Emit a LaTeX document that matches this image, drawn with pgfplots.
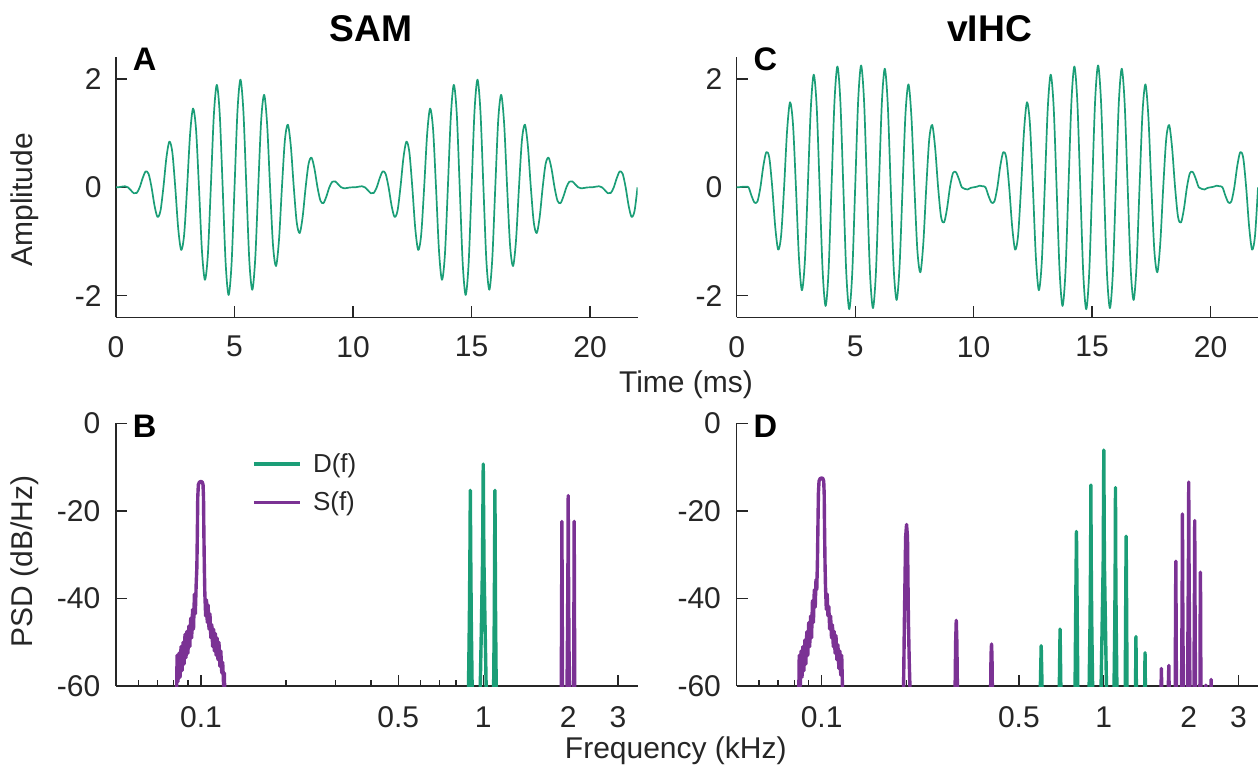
\documentclass[border=0pt]{standalone}
\usepackage{fontspec}
\setmainfont{Liberation Sans}
\usepackage{pgfplots}
\pgfplotsset{compat=1.18}
\definecolor{cg}{RGB}{27,158,119}
\definecolor{cp}{RGB}{123,50,148}
\definecolor{ax}{RGB}{38,38,38}
\pgfplotsset{
 myaxstyle/.style={
   scale only axis, anchor=south west,
   axis x line*=bottom, axis y line*=left,
   axis line style={ax, line width=0.65pt},
   every tick/.style={ax, line width=0.65pt},
   major tick length=5.5pt, minor tick length=3pt,
   tick align=inside,
   ticklabel style={font=\fontsize{15}{18}\selectfont, text=ax, inner sep=0pt},
 },
 timeaxstyle/.style={myaxstyle, height=130pt, xmin=0, xmax=22, ymin=-2.4, ymax=2.4,
   xtick={0,5,10,15,20}, xticklabels={0,5,10,15,20},
   ytick={-2,0,2}, yticklabels={-2,0,2},
   xticklabel style={anchor=north, yshift=-9.3pt},
   yticklabel style={anchor=east, xshift=-7pt}},
 freqaxstyle/.style={myaxstyle, height=131.35pt, xmin=0.05, xmax=3.52, ymin=-60, ymax=0,
   xtick={0.1,0.5,1,2,3}, xticklabels={0.1,0.5,1,2,3},
   minor xtick={0.06,0.07,0.08,0.09,0.2,0.3,0.4,0.6,0.7,0.8,0.9},
   ytick={-60,-40,-20,0}, yticklabels={-60,-40,-20,0},
   xticklabel style={anchor=north, yshift=-10pt},
   yticklabel style={anchor=east, xshift=-7.7pt}},
}
\begin{document}
\begin{tikzpicture}
\useasboundingbox (0pt,0pt) rectangle (629pt,-386pt);
% ---------------- A ----------------
\begin{axis}[timeaxstyle, at={(58pt,-158.65pt)}, width=260.75pt]
\addplot[cg, line width=0.85pt, smooth, line join=round] coordinates {
(0,0)(0.125,0.0022)(0.25,0.0123)(0.375,0.0195)(0.5,0)(0.625,-0.0538)(0.75,-0.109)(0.875,-0.1042)
(1,0)(1.125,0.1694)(1.25,0.2929)(1.375,0.2479)(1.5,0)(1.625,-0.3376)(1.75,-0.546)(1.875,-0.4365)
(2,0)(2.125,0.542)(2.25,0.8436)(2.375,0.6516)(2.5,0)(2.625,-0.7626)(2.75,-1.1564)(2.875,-0.8722)
(3,0)(3.125,0.9777)(3.25,1.454)(3.375,1.0766)(3.5,0)(3.625,-1.1663)(3.75,-1.7071)(3.875,-1.2448)
(4,0)(4.125,1.31)(4.25,1.891)(4.375,1.3604)(4.5,0)(4.625,-1.3947)(4.75,-1.9877)(4.875,-1.412)
(5,0)(5.125,1.412)(5.25,1.9877)(5.375,1.3947)(5.5,0)(5.625,-1.3604)(5.75,-1.891)(5.875,-1.31)
(6,0)(6.125,1.2448)(6.25,1.7071)(6.375,1.1663)(6.5,0)(6.625,-1.0766)(6.75,-1.454)(6.875,-0.9777)
(7,0)(7.125,0.8722)(7.25,1.1564)(7.375,0.7626)(7.5,0)(7.625,-0.6516)(7.75,-0.8436)(7.875,-0.542)
(8,0)(8.125,0.4365)(8.25,0.546)(8.375,0.3376)(8.5,0)(8.625,-0.2479)(8.75,-0.2929)(8.875,-0.1694)
(9,0)(9.125,0.1042)(9.25,0.109)(9.375,0.0538)(9.5,0)(9.625,-0.0195)(9.75,-0.0123)(9.875,-0.0022)
(10,0)(10.125,0.0022)(10.25,0.0123)(10.375,0.0195)(10.5,0)(10.625,-0.0538)(10.75,-0.109)(10.875,-0.1042)
(11,0)(11.125,0.1694)(11.25,0.2929)(11.375,0.2479)(11.5,0)(11.625,-0.3376)(11.75,-0.546)(11.875,-0.4365)
(12,0)(12.125,0.542)(12.25,0.8436)(12.375,0.6516)(12.5,0)(12.625,-0.7626)(12.75,-1.1564)(12.875,-0.8722)
(13,0)(13.125,0.9777)(13.25,1.454)(13.375,1.0766)(13.5,0)(13.625,-1.1663)(13.75,-1.7071)(13.875,-1.2448)
(14,0)(14.125,1.31)(14.25,1.891)(14.375,1.3604)(14.5,0)(14.625,-1.3947)(14.75,-1.9877)(14.875,-1.412)
(15,0)(15.125,1.412)(15.25,1.9877)(15.375,1.3947)(15.5,0)(15.625,-1.3604)(15.75,-1.891)(15.875,-1.31)
(16,0)(16.125,1.2448)(16.25,1.7071)(16.375,1.1663)(16.5,0)(16.625,-1.0766)(16.75,-1.454)(16.875,-0.9777)
(17,0)(17.125,0.8722)(17.25,1.1564)(17.375,0.7626)(17.5,0)(17.625,-0.6516)(17.75,-0.8436)(17.875,-0.542)
(18,0)(18.125,0.4365)(18.25,0.546)(18.375,0.3376)(18.5,0)(18.625,-0.2479)(18.75,-0.2929)(18.875,-0.1694)
(19,0)(19.125,0.1042)(19.25,0.109)(19.375,0.0538)(19.5,0)(19.625,-0.0195)(19.75,-0.0123)(19.875,-0.0022)
(20,0)(20.125,0.0022)(20.25,0.0123)(20.375,0.0195)(20.5,0)(20.625,-0.0538)(20.75,-0.109)(20.875,-0.1042)
(21,0)(21.125,0.1694)(21.25,0.2929)(21.375,0.2479)(21.5,0)(21.625,-0.3376)(21.75,-0.546)(21.875,-0.4365)
(22,0)};
\end{axis}
% ---------------- C ----------------
\begin{axis}[timeaxstyle, at={(368.35pt,-158.65pt)}, width=260.65pt]
\addplot[cg, line width=0.85pt, smooth, line join=round] coordinates {
(0,0)(0.125,0.003)(0.25,0.01)(0.375,0.01)(0.5,0)(0.625,-0.156)(0.75,-0.28)(0.875,-0.262)
(1,0)(1.125,0.396)(1.25,0.65)(1.375,0.548)(1.5,0)(1.625,-0.725)(1.75,-1.15)(1.875,-0.887)
(2,0)(2.125,1.036)(2.25,1.57)(2.375,1.167)(2.5,0)(2.625,-1.287)(2.75,-1.9)(2.875,-1.375)
(3,0)(3.125,1.439)(3.25,2.08)(3.375,1.492)(3.5,0)(3.625,-1.527)(3.75,-2.19)(3.875,-1.556)
(4,0)(4.125,1.57)(4.25,2.23)(4.375,1.58)(4.5,0)(4.625,-1.587)(4.75,-2.25)(4.875,-1.591)
(5,0)(5.125,1.591)(5.25,2.25)(5.375,1.587)(5.5,0)(5.625,-1.58)(5.75,-2.23)(5.875,-1.57)
(6,0)(6.125,1.556)(6.25,2.19)(6.375,1.527)(6.5,0)(6.625,-1.492)(6.75,-2.08)(6.875,-1.439)
(7,0)(7.125,1.375)(7.25,1.9)(7.375,1.287)(7.5,0)(7.625,-1.167)(7.75,-1.57)(7.875,-1.036)
(8,0)(8.125,0.887)(8.25,1.15)(8.375,0.725)(8.5,0)(8.625,-0.548)(8.75,-0.65)(8.875,-0.396)
(9,0)(9.125,0.262)(9.25,0.28)(9.375,0.156)(9.5,0)(9.625,-0.03)(9.75,-0.04)(9.875,-0.01)
(10,0)(10.125,0.01)(10.25,0.03)(10.375,0.02)(10.5,0)(10.625,-0.156)(10.75,-0.28)(10.875,-0.262)
(11,0)(11.125,0.396)(11.25,0.65)(11.375,0.548)(11.5,0)(11.625,-0.725)(11.75,-1.15)(11.875,-0.887)
(12,0)(12.125,1.036)(12.25,1.57)(12.375,1.167)(12.5,0)(12.625,-1.287)(12.75,-1.9)(12.875,-1.375)
(13,0)(13.125,1.439)(13.25,2.08)(13.375,1.492)(13.5,0)(13.625,-1.527)(13.75,-2.19)(13.875,-1.556)
(14,0)(14.125,1.57)(14.25,2.23)(14.375,1.58)(14.5,0)(14.625,-1.587)(14.75,-2.25)(14.875,-1.591)
(15,0)(15.125,1.591)(15.25,2.25)(15.375,1.587)(15.5,0)(15.625,-1.58)(15.75,-2.23)(15.875,-1.57)
(16,0)(16.125,1.556)(16.25,2.19)(16.375,1.527)(16.5,0)(16.625,-1.492)(16.75,-2.08)(16.875,-1.439)
(17,0)(17.125,1.375)(17.25,1.9)(17.375,1.287)(17.5,0)(17.625,-1.167)(17.75,-1.57)(17.875,-1.036)
(18,0)(18.125,0.887)(18.25,1.15)(18.375,0.725)(18.5,0)(18.625,-0.548)(18.75,-0.65)(18.875,-0.396)
(19,0)(19.125,0.262)(19.25,0.28)(19.375,0.156)(19.5,0)(19.625,-0.03)(19.75,-0.04)(19.875,-0.01)
(20,0)(20.125,0.01)(20.25,0.03)(20.375,0.02)(20.5,0)(20.625,-0.156)(20.75,-0.28)(20.875,-0.262)
(21,0)(21.125,0.396)(21.25,0.65)(21.375,0.548)(21.5,0)(21.625,-0.725)(21.75,-1.15)(21.875,-0.887)
(22,0)};
\end{axis}
% ---------------- B ----------------
\begin{semilogxaxis}[freqaxstyle, at={(58pt,-343pt)}, width=260.75pt,
   legend style={draw=none, fill=none, at={(0.2604,0.903)}, anchor=north west,
     inner sep=0pt, row sep=4.3pt, column sep=3.85pt,
     font=\fontsize{13}{15}\selectfont, text=ax, nodes={inner sep=2pt}},
   legend cell align=left,
   legend image code/.code={\draw[#1] (0pt,0pt) -- (22.85pt,0pt);}]
\addplot[cg, line width=1.7pt, line join=round] coordinates {
(0.86,-100)(0.885,-64)(0.893,-45)(0.897,-30)(0.9,-15.3)(0.903,-30)(0.907,-45)(0.915,-64)(0.94,-100)
(0.96,-100)(0.974,-63)(0.984,-48)(0.994,-32)(1.0,-9.3)(1.006,-32)(1.016,-48)(1.026,-63)(1.05,-100)
(1.07,-100)(1.087,-64)(1.094,-45)(1.097,-30)(1.1,-15.3)(1.103,-30)(1.106,-45)(1.113,-64)(1.14,-100)};
\addlegendentry{D(f)}
\addplot[cp, line width=1.7pt, line join=round] coordinates {
(0.08,-100)(0.0815,-75)(0.0823,-53)(0.0829,-59)(0.0836,-52.5)(0.0843,-58)(0.085,-51)(0.0857,-56.5)(0.0864,-50)(0.0871,-55)
(0.0878,-48.2)(0.0885,-53.5)(0.0892,-47.5)(0.0899,-52.5)(0.0906,-46.3)(0.0913,-51)(0.092,-44.5)(0.0927,-49)(0.0934,-42.5)
(0.0941,-47)(0.0948,-39)(0.0955,-43.5)(0.0962,-36.5)(0.0967,-33)(0.0971,-25)(0.0974,-17)(0.0979,-14)(0.0988,-13.4)
(0.1,-13.3)(0.101,-13.4)(0.1017,-14)(0.1021,-17)(0.1024,-25)(0.1028,-33)
(0.1032,-38.8)(0.1039,-44)(0.1046,-40.3)(0.1053,-45.5)(0.106,-41.5)(0.1068,-47)(0.1076,-43.5)(0.1084,-49)(0.1092,-46)
(0.11,-51)(0.1108,-47)(0.1116,-52)(0.1124,-48)(0.1132,-53)(0.114,-49)(0.1149,-54)(0.1158,-50)(0.1167,-55.5)(0.1176,-52)
(0.1185,-57)(0.1194,-54.6)(0.1203,-60)(0.121,-57)(0.1218,-66)(0.123,-100)
(1.85,-100)(1.889,-64)(1.896,-40)(1.9,-22.4)(1.904,-40)(1.911,-64)(1.94,-100)
(1.96,-100)(1.979,-64)(1.989,-48)(1.996,-32)(2.0,-16.5)(2.004,-32)(2.011,-48)(2.021,-64)(2.05,-100)
(2.07,-100)(2.089,-64)(2.096,-40)(2.1,-22.4)(2.104,-40)(2.111,-64)(2.15,-100)};
\addlegendentry{S(f)}
\end{semilogxaxis}
% ---------------- D ----------------
\begin{semilogxaxis}[freqaxstyle, at={(368.35pt,-343pt)}, width=260.65pt]
\addplot[cg, line width=1.7pt, line join=round] coordinates {
(0.55,-100)(0.595,-62)(0.6,-50.8)(0.605,-62)(0.65,-100)
(0.695,-62)(0.7,-47)(0.705,-62)(0.75,-100)
(0.79,-65)(0.796,-40)(0.8,-24.7)(0.804,-40)(0.81,-65)(0.85,-100)
(0.885,-65)(0.894,-45)(0.898,-30)(0.9,-14.1)(0.902,-30)(0.906,-45)(0.915,-65)(0.95,-100)
(0.975,-65)(0.986,-47)(0.995,-32)(1.0,-6.1)(1.005,-32)(1.014,-47)(1.025,-65)(1.05,-100)
(1.085,-65)(1.094,-45)(1.098,-30)(1.1,-14.7)(1.102,-30)(1.106,-45)(1.115,-65)(1.15,-100)
(1.19,-65)(1.196,-40)(1.2,-25.8)(1.204,-40)(1.21,-65)(1.25,-100)
(1.295,-62)(1.3,-48.7)(1.305,-62)(1.35,-100)
(1.395,-62)(1.4,-52.4)(1.405,-62)(1.45,-100)};
\addplot[cp, line width=1.7pt, line join=round] coordinates {
(0.081,-100)(0.0825,-75)(0.0833,-53)(0.084,-60)(0.0846,-52)(0.0852,-58)(0.0858,-51)(0.0865,-56.5)(0.0872,-49.5)(0.0879,-55)
(0.0886,-47.6)(0.0893,-53)(0.09,-45.5)(0.0907,-51)(0.0914,-44)(0.0921,-49)(0.0928,-40.5)(0.0935,-45.5)(0.0942,-38)
(0.0949,-42)(0.0955,-35.7)(0.0961,-38)(0.0966,-32)(0.097,-24)(0.0974,-16)(0.0979,-13.2)(0.0988,-12.6)
(0.1,-12.5)(0.101,-12.6)(0.1017,-13.2)(0.1021,-16)(0.1024,-24)(0.1028,-32)
(0.1032,-37.3)(0.1039,-42.5)(0.1046,-39)(0.1053,-44)(0.106,-41.8)(0.1068,-47)(0.1076,-44)(0.1084,-49)(0.1092,-46)
(0.11,-51)(0.1108,-47.5)(0.1116,-52.5)(0.1124,-48.5)(0.1133,-54)(0.1142,-50.6)(0.1151,-56)(0.116,-52)(0.1169,-57.5)
(0.1178,-53)(0.1185,-60)(0.1192,-70)(0.12,-100)
(0.19,-100)(0.195,-62)(0.1965,-45)(0.1985,-26)(0.2,-23.1)(0.2015,-26)(0.203,-45)(0.2045,-55)(0.206,-62)(0.21,-100)
(0.29,-100)(0.297,-62)(0.2985,-50)(0.3,-45)(0.3015,-50)(0.303,-62)(0.31,-100)
(0.39,-100)(0.397,-62)(0.3985,-53)(0.4,-50.4)(0.4015,-53)(0.403,-62)(0.41,-100)
(1.55,-100)(1.594,-62)(1.6,-56)(1.606,-62)(1.65,-100)
(1.69,-62)(1.7,-55.3)(1.706,-62)(1.75,-100)
(1.79,-65)(1.797,-40)(1.8,-31.5)(1.803,-40)(1.81,-65)(1.85,-100)
(1.885,-65)(1.895,-40)(1.9,-20.7)(1.905,-40)(1.915,-65)(1.95,-100)
(1.978,-65)(1.989,-45)(1.996,-30)(2.0,-13.4)(2.004,-30)(2.011,-45)(2.022,-65)(2.05,-100)
(2.085,-65)(2.095,-40)(2.1,-22.2)(2.105,-40)(2.115,-65)(2.15,-100)
(2.19,-65)(2.197,-40)(2.2,-34)(2.203,-40)(2.21,-65)(2.25,-100)
(2.295,-61)(2.3,-59.8)(2.305,-61)(2.35,-100)
(2.395,-62)(2.4,-58.5)(2.405,-62)(2.45,-100)};
\end{semilogxaxis}
% ---------------- text ----------------
\begin{scope}[every node/.style={inner sep=0pt}]
\node[font=\fontsize{18.6}{22}\selectfont\bfseries] at (185.4pt,-14.15pt) {SAM};
\node[font=\fontsize{18.6}{22}\selectfont\bfseries] at (494.75pt,-14.15pt) {vIHC};
\node[font=\fontsize{16.3}{19}\selectfont\bfseries] at (72.35pt,-29.5pt) {A};
\node[font=\fontsize{16.3}{19}\selectfont\bfseries] at (72.35pt,-212.9pt) {B};
\node[font=\fontsize{16.3}{19}\selectfont\bfseries] at (382.7pt,-29.5pt) {C};
\node[font=\fontsize{16.3}{19}\selectfont\bfseries] at (382.7pt,-212.9pt) {D};
\node[font=\fontsize{15}{18}\selectfont, text=ax, rotate=90] at (12.4pt,-99.85pt) {Amplitude};
\node[font=\fontsize{15}{18}\selectfont, text=ax, rotate=90] at (12.4pt,-280.85pt) {PSD (dB/Hz)};
\node[font=\fontsize{15}{18}\selectfont, text=ax] at (343pt,-192.5pt) {Time (ms)};
\node[font=\fontsize{15}{18}\selectfont, text=ax] at (337.9pt,-375.35pt) {Frequency (kHz)};
\end{scope}
\end{tikzpicture}
\end{document}
